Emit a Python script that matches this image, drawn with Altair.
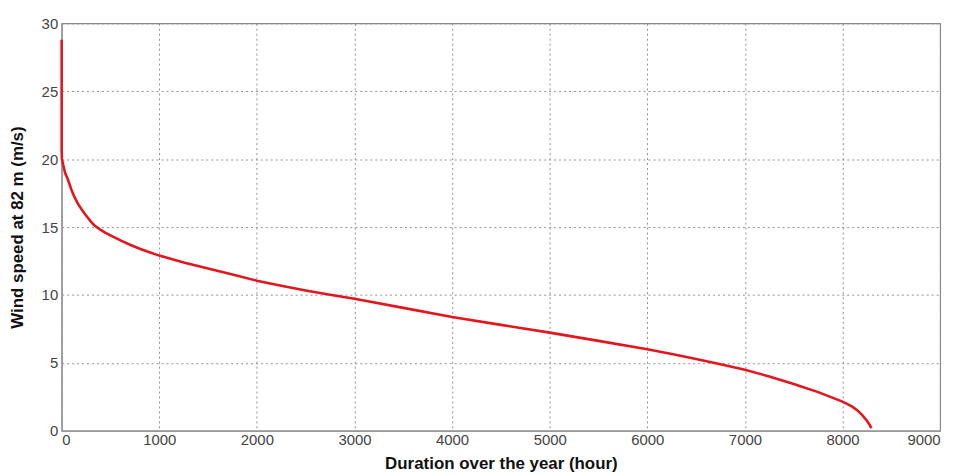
import altair as alt
import pandas as pd

hours = [0, 0, 3, 15, 35, 64, 100, 132, 165, 200, 250, 300, 336, 400, 450,
         525, 608, 700, 800, 900, 1000, 1250, 1500, 1750, 2000, 2250, 2500,
         2750, 3000, 3500, 4000, 4500, 5000, 5500, 6000, 6250, 6500, 6750,
         7000, 7250, 7500, 7750, 8000, 8100, 8150, 8200, 8250, 8280, 8295]
speed = [28.8, 20.6, 20.0, 19.6, 19.0, 18.5, 17.75, 17.2, 16.75, 16.35,
         15.85, 15.4, 15.12, 14.8, 14.58, 14.3, 14.0, 13.7, 13.4, 13.15, 12.9,
         12.4, 11.95, 11.5, 11.05, 10.68, 10.33, 10.02, 9.72, 9.05, 8.38, 7.8,
         7.23, 6.62, 6.0, 5.65, 5.28, 4.9, 4.49, 4.0, 3.45, 2.85, 2.15, 1.78,
         1.52, 1.17, 0.74, 0.42, 0.2]
x_ticks = [0, 1000, 2000, 3000, 4000, 5000, 6000, 7000, 8000, 9000]
y_ticks = [0, 5, 10, 15, 20, 25, 30]

df = pd.DataFrame({"h": hours, "v": speed, "i": list(range(len(hours)))})

chart = alt.Chart(df).mark_line(color="#e3161d", strokeWidth=2.6).encode(
    x=alt.X("h:Q", scale=alt.Scale(domain=[0, 9000], nice=False),
            axis=alt.Axis(values=x_ticks, format="d",
                          title="Duration over the year (hour)",
                          titleX=442, titleY=33, titleBaseline="middle",
                          labelPadding=2)),
    y=alt.Y("v:Q", scale=alt.Scale(domain=[0, 30], nice=False),
            axis=alt.Axis(values=y_ticks, format="d",
                          title="Wind speed at 82 m (m/s)",
                          titleX=-44, titleY=205, titleAlign="center",
                          titleBaseline="middle", titleAngle=-90,
                          labelPadding=4)),
    order=alt.Order("i:Q"),
).properties(
    width=884, height=410,
    autosize=alt.AutoSizeParams(type="none"),
    padding={"left": 54, "top": 14, "right": 20, "bottom": 40},
).configure_view(
    stroke="#888888", strokeWidth=1.2
).configure_axis(
    grid=True, gridColor="#909090", gridDash=[2, 3], gridWidth=1, gridOpacity=1,
    domainColor="#999999", domainWidth=1.5, ticks=False,
    labelFont="Liberation Sans", labelFontSize=15, labelColor="#444444",
    titleFont="Liberation Sans", titleFontSize=17, titleFontWeight="bold",
    titleColor="#111111",
)

chart.save("out.html", embed_options={"renderer": "svg", "actions": False})
